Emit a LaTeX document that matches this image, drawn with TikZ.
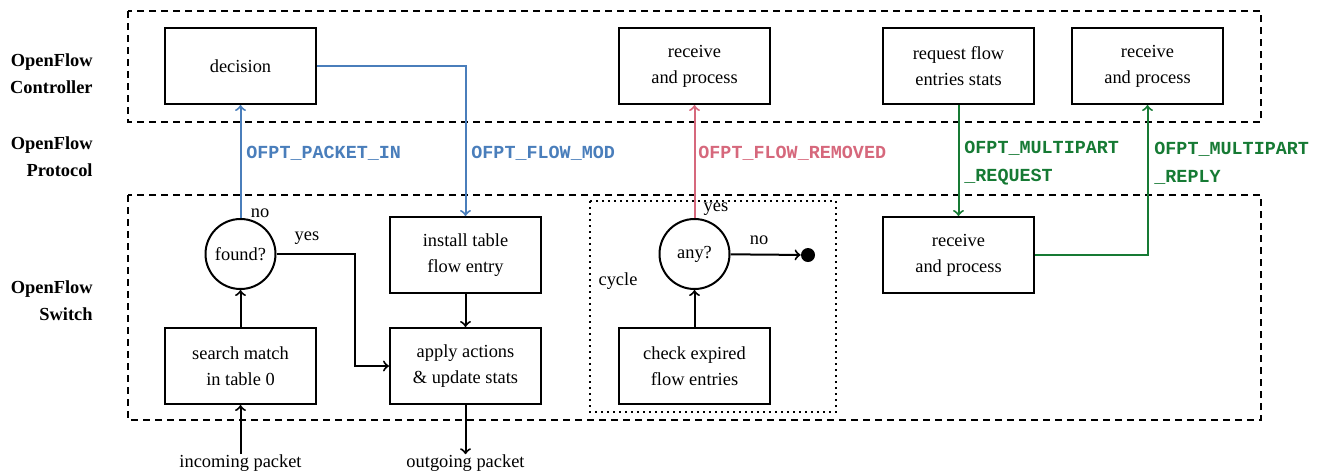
\documentclass[tikz,border=0pt]{standalone}
\usepackage{fontspec}
\setmainfont{Liberation Serif}
\setmonofont{Liberation Mono}
\definecolor{ofblue}{RGB}{74,126,187}
\definecolor{ofpink}{RGB}{214,104,124}
\definecolor{ofgreen}{RGB}{22,122,52}
\begin{document}
\begin{tikzpicture}[x=0.5pt,y=-0.5pt,
  every node/.style={font=\fontsize{9.2}{13}\selectfont},
  proc/.style={draw,line width=1pt,minimum width=75.5pt,minimum height=38pt,align=center,inner sep=2pt},
  decis/.style={draw,circle,line width=1pt,minimum size=35pt,inner sep=1pt},
  region/.style={draw,line width=1pt,dash pattern=on 3.6pt off 2.4pt},
  cyclebox/.style={draw,line width=1pt,dash pattern=on 1pt off 2pt},
  arr/.style={->,line width=1pt},
  lane/.style={font=\fontsize{9.2}{13.5}\selectfont\bfseries,align=right,anchor=east,inner sep=0pt},
  msg/.style={font=\fontsize{9.2}{14}\selectfont\ttfamily\bfseries,align=left,anchor=west,inner sep=0pt},
  small/.style={inner sep=0pt}
]
\useasboundingbox (0,0) rectangle (1322,472);
% regions
\draw[region] (128,11) rectangle (1261,122);
\draw[region] (128,195) rectangle (1261,420);
\draw[cyclebox] (590,201) rectangle (836,412);
% lane labels
\node[lane] (lc) at (93,74) {OpenFlow\\Controller};
\node[lane] (lp) at (93,157) {OpenFlow\\Protocol};
\node[lane] (ls) at (93,301) {OpenFlow\\Switch};
% controller boxes
\node[proc] (decision) at (240.5,66) {decision};
\node[proc] (recvA) at (694.5,66) {receive\\and process};
\node[proc] (request) at (958.5,66) {request flow\\entries stats};
\node[proc] (recvB) at (1147.5,66) {receive\\and process};
% switch
\node[proc] (install) at (465.5,255) {install table\\flow entry};
\node[proc] (search) at (240.5,366) {search match\\in table 0};
\node[proc] (apply) at (465.5,366) {apply actions\\\& update stats};
\node[proc] (check) at (694.5,366) {check expired\\flow entries};
\node[proc] (recvS) at (958.5,255) {receive\\and process};
\node[decis] (found) at (240.5,254) {found?};
\node[decis] (any) at (694.5,254) {any?};
\node[circle,fill,inner sep=0pt,minimum size=7pt] (stop) at (808,255) {};
\node[small] (incoming) at (240.5,463) {incoming packet};
\node[small] (outgoing) at (465.5,463) {outgoing packet};
\node[small] (cyc) at (618,281) {cycle};
% black connectors
\draw[arr] (incoming.north) -- (search.south);
\draw[arr] (search) -- (found);
\draw[arr] (install) -- (apply);
\draw[arr] (apply.south) -- (outgoing.north);
\draw[arr] (found.east) -- ++(78,0) |- (apply.west);
\draw[arr] (check) -- (any);
\draw[arr] (any) -- (stop);
\node[small] (yes1) at (307,238) {yes};
\node[small] (no1) at (260,213) {no};
\node[small] (yes2) at (716,209) {yes};
\node[small] (no2) at (759,240) {no};
% protocol messages
\draw[arr,ofblue] (found.north) -- (decision.south);
\draw[arr,ofblue] (decision.east) -| (install.north);
\draw[arr,ofpink] (any.north) -- (recvA.south);
\draw[arr,ofgreen] (request.south) -- (recvS.north);
\draw[arr,ofgreen] (recvS.east) -| (recvB.south);
\node[msg,text=ofblue] (m1) at (246,153) {OFPT\_PACKET\_IN};
\node[msg,text=ofblue] (m2) at (471,153) {OFPT\_FLOW\_MOD};
\node[msg,text=ofpink] (m3) at (698,153) {OFPT\_FLOW\_REMOVED};
\node[msg,text=ofgreen] (m4) at (964,163) {OFPT\_MULTIPART\\\_REQUEST};
\node[msg,text=ofgreen] (m5) at (1154,163) {OFPT\_MULTIPART\\\_REPLY};
\end{tikzpicture}
\end{document}
